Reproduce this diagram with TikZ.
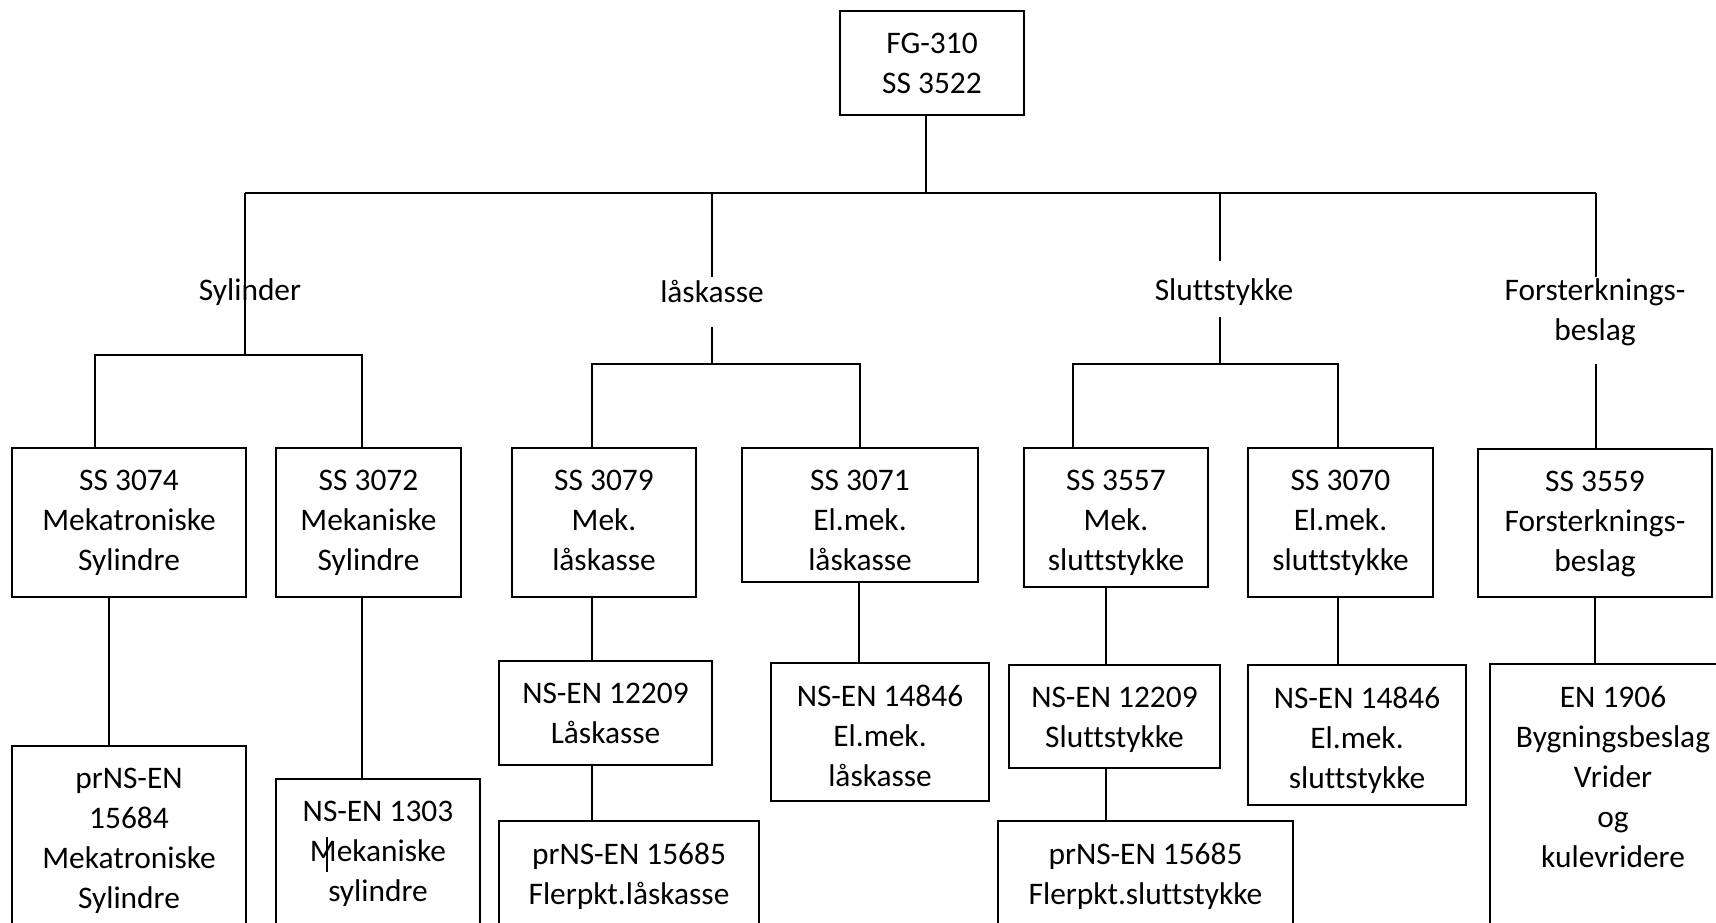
\documentclass[tikz,border=0pt]{standalone}
\usepackage{fontspec}
\setmainfont{Carlito}[Ligatures={NoCommon}]
\newcommand{\bx}[6]{%
  \node[box, minimum width=#4, minimum height=#5, anchor=north] (#1) at (#2,#3) {};
  \node[txt] (#1t) at ([yshift=-10.7pt]#1.north) {#6};}
\begin{document}
\begin{tikzpicture}[x=0.5pt,y=-0.5pt,
  every node/.style={font=\fontsize{15.7pt}{20pt}\selectfont, align=center, inner sep=0pt},
  box/.style={draw, line width=1pt, rectangle, outer sep=0pt},
  txt/.style={anchor=north, execute at begin node={\rule{0pt}{13pt}}},
  conn/.style={line width=0.75pt},
  lbl/.style={}]
\useasboundingbox (0,0) rectangle (1716,922);
\clip (0,0) rectangle (1716,922);
\fill[white] (0,0) rectangle (1716,922);

% root
\bx{root}{932}{11}{92pt}{52pt}{FG-310\\SS 3522}

% category labels
\node[lbl] (lsyl) at (250,292) {Sylinder};
\node[lbl] (llas) at (712,291) {låskasse};
\node[lbl] (lslu) at (1224,292) {Sluttstykke};
\node[lbl] (lfor) at (1595,312) {Forsterknings-\\beslag};

% row 2
\bx{s3074}{129}{448}{117pt}{74.5pt}{SS 3074\\Mekatroniske\\Sylindre}
\bx{s3072}{368.5}{448}{92.5pt}{74.5pt}{SS 3072\\Mekaniske\\Sylindre}
\bx{s3079}{604}{448}{92pt}{74.5pt}{SS 3079\\Mek.\\låskasse}
\bx{s3071}{860}{448}{118pt}{67pt}{SS 3071\\El.mek.\\låskasse}
\bx{s3557}{1116}{448}{92pt}{69.5pt}{SS 3557\\Mek.\\sluttstykke}
\bx{s3070}{1340.5}{448}{92.5pt}{74.5pt}{SS 3070\\El.mek.\\sluttstykke}
\bx{s3559}{1595}{449}{117pt}{74pt}{SS 3559\\Forsterknings-\\beslag}

% row 3
\bx{n12209l}{605.5}{661}{106.5pt}{52pt}{NS-EN 12209\\Låskasse}
\bx{n14846l}{880}{663}{109pt}{69pt}{NS-EN 14846\\El.mek.\\låskasse}
\bx{n12209s}{1114.5}{665}{105.5pt}{51.5pt}{NS-EN 12209\\Sluttstykke}
\bx{n14846s}{1357}{665}{109pt}{70pt}{NS-EN 14846\\El.mek.\\sluttstykke}

% boxes running off the bottom edge
\bx{p15684}{129}{746}{117pt}{107pt}{prNS-EN\\15684\\Mekatroniske\\Sylindre}
\bx{n1303}{378}{779}{102pt}{90.5pt}{NS-EN 1303\\Mekaniske\\sylindre}
\bx{p15685l}{629}{821}{130pt}{69.5pt}{prNS-EN 15685\\Flerpkt.låskasse}
\bx{p15685s}{1145.5}{821}{147.5pt}{69.5pt}{prNS-EN 15685\\Flerpkt.sluttstykke}
\bx{en1906}{1613}{664}{123pt}{148pt}{EN 1906\\Bygningsbeslag\\Vrider\\og\\kulevridere}

% coordinates for connectors
\coordinate (j0) at (926,193);
\coordinate (bL) at (245,193);
\coordinate (bR) at (1596,193);
\coordinate (sy) at (245,355);
\coordinate (sy1) at (95,355);
\coordinate (sy2) at (362,355);
\coordinate (la) at (712,193);
\coordinate (laA) at (712,277);
\coordinate (laB) at (712,327);
\coordinate (laC) at (712,364);
\coordinate (la1) at (592,364);
\coordinate (la2) at (860,364);
\coordinate (sl) at (1220,193);
\coordinate (slA) at (1220,261);
\coordinate (slB) at (1220,317);
\coordinate (slC) at (1220,364);
\coordinate (sl1) at (1073,364);
\coordinate (sl2) at (1338,364);
\coordinate (foA) at (1596,277);
\coordinate (foB) at (1596,364);
\coordinate (c1) at (109,0);
\coordinate (c2) at (362,0);
\coordinate (c3) at (592,0);
\coordinate (c4) at (859,0);
\coordinate (c5) at (1106,0);
\coordinate (c6) at (1338,0);
\coordinate (c7) at (1595,0);

% top connectors
\draw[conn] (root.south -| j0) -- (j0);
\draw[conn] (bL) -- (bR);
% Sylinder
\draw[conn] (bL) -- (sy);
\draw[conn] (s3074.north -| sy1) -- (sy1) -- (sy2) -- (s3072.north -| sy2);
% laaskasse
\draw[conn] (la) -- (laA);
\draw[conn] (laB) -- (laC);
\draw[conn] (s3079.north -| la1) -- (la1) -- (la2) -- (s3071.north -| la2);
% Sluttstykke
\draw[conn] (sl) -- (slA);
\draw[conn] (slB) -- (slC);
\draw[conn] (s3557.north -| sl1) -- (sl1) -- (sl2) -- (s3070.north -| sl2);
% Forsterkningsbeslag
\draw[conn] (bR) -- (foA);
\draw[conn] (foB) -- (s3559.north -| foB);

% row 2 -> row 3
\draw[conn] (s3074.south -| c1) -- (p15684.north -| c1);
\draw[conn] (s3072.south -| c2) -- (n1303.north -| c2);
\draw[conn] (s3079.south -| c3) -- (n12209l.north -| c3);
\draw[conn] (n12209l.south -| c3) -- (p15685l.north -| c3);
\draw[conn] (s3071.south -| c4) -- (n14846l.north -| c4);
\draw[conn] (s3557.south -| c5) -- (n12209s.north -| c5);
\draw[conn] (n12209s.south -| c5) -- (p15685s.north -| c5);
\draw[conn] (s3070.south -| c6) -- (n14846s.north -| c6);
\draw[conn] (s3559.south -| c7) -- (en1906.north -| c7);

% text cursor mark
\draw[line width=0.6pt] (327,837) -- (327,872);
\end{tikzpicture}
\end{document}
